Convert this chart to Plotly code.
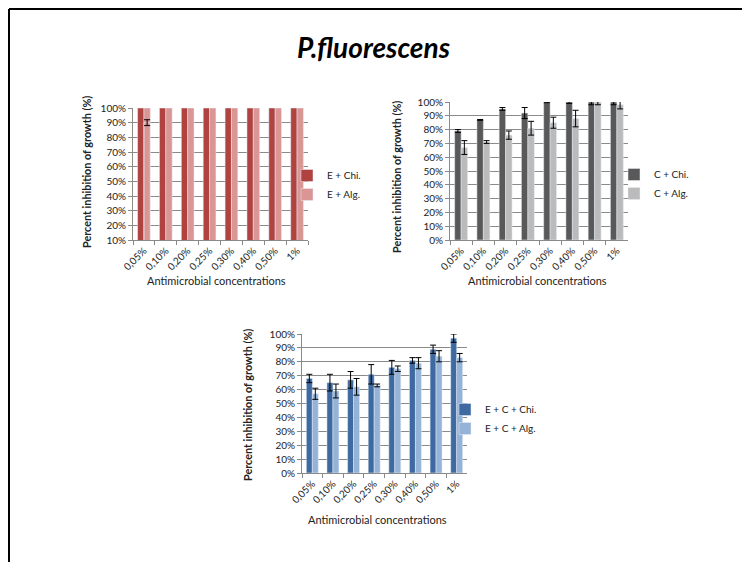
import plotly.graph_objects as go

W, H = 750, 562
OFF = 8  # page body margin in the viewer

categories = ["0,05%", "0,10%", "0,20%", "0,25%", "0,30%", "0,40%", "0,50%", "1%"]

# Chart 1: E + Chi. / E + Alg.
e_chi = [100, 100, 100, 100, 100, 100, 100, 100]
e_alg = [100, 100, 100, 100, 100, 100, 100, 100]
e_alg_err_center = [90, None, None, None, None, None, None, None]
e_alg_err = [2, 0, 0, 0, 0, 0, 0, 0]

# Chart 2: C + Chi. / C + Alg.
c_chi = [79, 87, 95, 92, 100, 100, 100, 100]
c_chi_err = [1, 0.3, 1, 4, 0.5, 1, 2, 2]
c_alg = [67, 71, 76, 81, 85, 88, 100, 98]
c_alg_err = [5, 1, 3, 5, 4, 6, 2, 3]

# Chart 3: E + C + Chi. / E + C + Alg.
ec_chi = [68, 65, 67, 71, 76, 81, 89, 97]
ec_chi_err = [3, 6, 6, 7, 5, 2, 3, 3]
ec_alg = [57, 59, 62, 63, 75, 79, 84, 83]
ec_alg_err = [4, 5, 6, 1, 2, 4, 4, 3]

FONT = "Lato"


def px_x(p):
    return (p - OFF) / W


def px_y(p):
    return 1 - (p - OFF) / H


def err(arr):
    return dict(type="data", array=arr, visible=True, color="black", thickness=1, width=3)


fig = go.Figure()

# chart 1
fig.add_trace(go.Bar(x=categories, y=e_chi, name="E + Chi.", marker_color="#B0423F",
                     offsetgroup="a", xaxis="x", yaxis="y", legend="legend"))
fig.add_trace(go.Bar(x=categories, y=e_alg, name="E + Alg.", marker_color="#D99694",
                     offsetgroup="b", xaxis="x", yaxis="y", legend="legend"))
fig.add_trace(go.Bar(x=categories, y=e_alg_err_center, name="err", marker_color="rgba(0,0,0,0)",
                     error_y=err(e_alg_err), offsetgroup="b", xaxis="x", yaxis="y",
                     showlegend=False))

# chart 2
fig.add_trace(go.Bar(x=categories, y=c_chi, name="C + Chi.", marker_color="#595959",
                     error_y=err(c_chi_err), xaxis="x2", yaxis="y2", legend="legend2"))
fig.add_trace(go.Bar(x=categories, y=c_alg, name="C + Alg.", marker_color="#BBBBBB",
                     error_y=err(c_alg_err), xaxis="x2", yaxis="y2", legend="legend2"))

# chart 3
fig.add_trace(go.Bar(x=categories, y=ec_chi, name="E + C + Chi.", marker_color="#3E6AA1",
                     error_y=err(ec_chi_err), xaxis="x3", yaxis="y3", legend="legend3"))
fig.add_trace(go.Bar(x=categories, y=ec_alg, name="E + C + Alg.", marker_color="#95B3D7",
                     error_y=err(ec_alg_err), xaxis="x3", yaxis="y3", legend="legend3"))

grid = "#8A8A8A"
tickfont = dict(family=FONT, size=10, color="#222")


def xax(x0, x1, anchor):
    return dict(domain=[px_x(x0), px_x(x1)], anchor=anchor, type="category",
                tickangle=-45, tickfont=tickfont, showline=True, linecolor=grid,
                ticks="outside", tickson="boundaries", ticklen=4, tickcolor=grid,
                showgrid=False, fixedrange=True, automargin=False)


def yax(y_top, y_bot, anchor, rmin):
    return dict(domain=[px_y(y_bot), px_y(y_top)], anchor=anchor, range=[rmin, 100],
                dtick=10, tick0=0, ticksuffix="%", tickfont=tickfont, showline=True,
                linecolor=grid, ticks="outside", ticklen=4, tickcolor=grid,
                showgrid=True, gridcolor=grid, gridwidth=1, zeroline=False,
                fixedrange=True, automargin=False)


def leg(x, y):
    return dict(x=px_x(x), y=px_y(y), xanchor="left", yanchor="middle",
                font=dict(family=FONT, size=10, color="#222"), bgcolor="rgba(0,0,0,0)",
                itemwidth=30, tracegroupgap=0)


annotations = [
    dict(text="<b><i>P.fluorescens</i></b>", x=px_x(374), y=px_y(47), xref="paper", yref="paper",
         showarrow=False, font=dict(family=FONT, size=28, color="black"),
         xanchor="center", yanchor="middle"),
]
for (cx, cy) in [(87, 172), (396, 177), (247, 405)]:
    annotations.append(dict(text="<b>Percent inhibition of growth (%)</b>", x=px_x(cx), y=px_y(cy),
                            xref="paper", yref="paper", showarrow=False, textangle=-90,
                            font=dict(family=FONT, size=10.8, color="#222"),
                            xanchor="center", yanchor="middle"))
for (cx, cy) in [(216, 280), (537, 280), (377, 519)]:
    annotations.append(dict(text="Antimicrobial concentrations", x=px_x(cx), y=px_y(cy),
                            xref="paper", yref="paper", showarrow=False,
                            font=dict(family=FONT, size=11, color="#222"),
                            xanchor="center", yanchor="middle"))

shapes = [
    dict(type="line", xref="paper", yref="paper", x0=px_x(9), x1=1, y0=1 - 1 / H, y1=1 - 1 / H,
         line=dict(color="black", width=2)),
    dict(type="line", xref="paper", yref="paper", x0=px_x(9), x1=px_x(9), y0=1 - 1 / H, y1=0,
         line=dict(color="black", width=2)),
]

fig.update_layout(
    width=W, height=H, margin=dict(l=0, r=0, t=0, b=0, autoexpand=False),
    paper_bgcolor="white", plot_bgcolor="white",
    barmode="group", bargap=0.42, bargroupgap=0,
    xaxis=xax(133, 308, "y"), yaxis=yax(108, 240, "x", 10),
    xaxis2=xax(450, 628, "y2"), yaxis2=yax(102, 240, "x2", 0),
    xaxis3=xax(302, 467, "y3"), yaxis3=yax(334, 473, "x3", 0),
    legend=leg(287, 185), legend2=leg(614, 184), legend3=leg(445, 419),
    annotations=annotations, shapes=shapes,
    font=dict(family=FONT),
)

fig.write_html("out.html")
